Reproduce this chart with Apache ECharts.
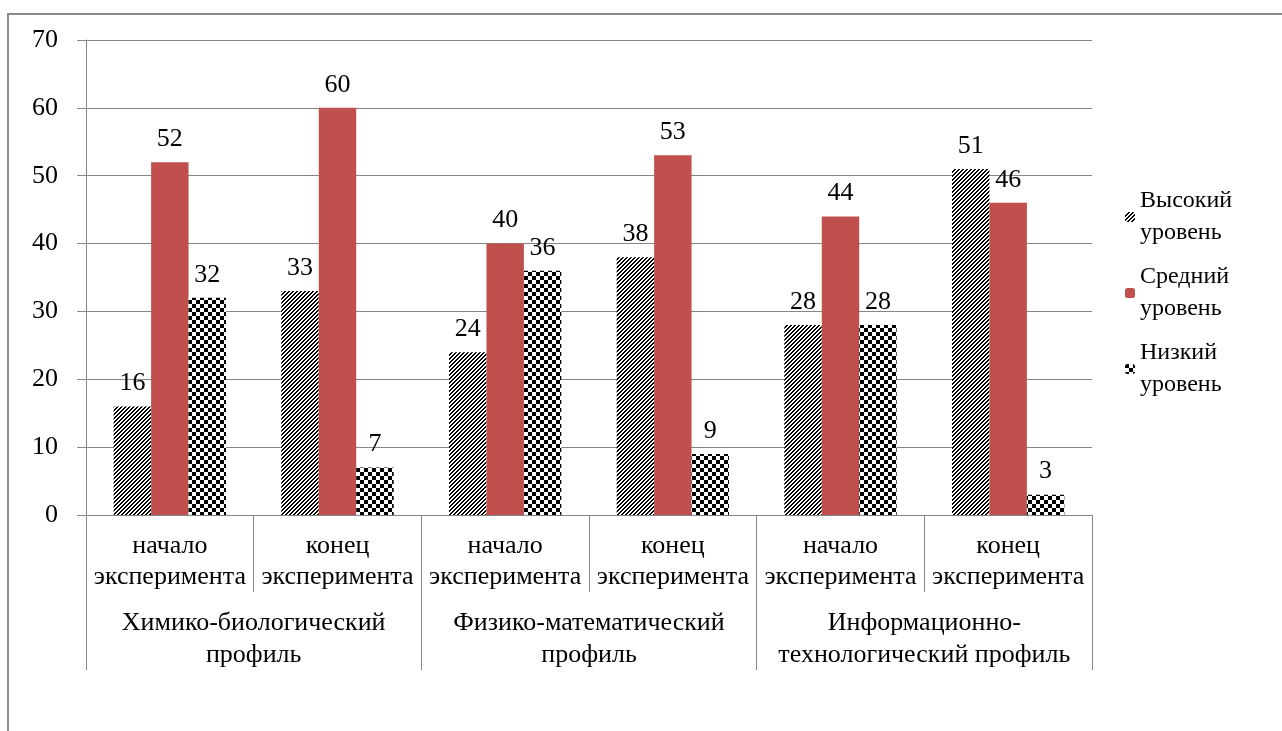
<!DOCTYPE html>
<html>
<head>
<meta charset="utf-8">
<script src="https://cdn.jsdelivr.net/npm/echarts@6/dist/echarts.min.js"></script>
<style>
  html, body { margin: 0; padding: 0; background: #fff; overflow: hidden; }
  #chart { width: 1282px; height: 731px; position: absolute; left: 0; top: 0; }
  #frame { position: absolute; left: 7px; top: 13px; width: 1400px; height: 900px; border: 2px solid #8c8c8c; pointer-events: none; }
</style>
</head>
<body>
<div id="chart"></div>
<div id="frame"></div>
<script>
// данные
const stages = ["начало\nэксперимента", "конец\nэксперимента", "начало\nэксперимента", "конец\nэксперимента", "начало\nэксперимента", "конец\nэксперимента"];
const profiles = ["Химико-биологический\nпрофиль", "Физико-математический\nпрофиль", "Информационно-\nтехнологический профиль"];
const seriesNames = ["Высокий уровень", "Средний уровень", "Низкий уровень"];
const high = [16, 33, 24, 38, 28, 51];
const middle = [52, 60, 40, 53, 44, 46];
const low = [32, 7, 36, 9, 28, 3];

const FONT = "serif";
const GRAY = "#868686";

// штриховка
function hatchPattern() {
  const c = document.createElement("canvas");
  c.width = 4; c.height = 4;
  const ctx = c.getContext("2d");
  ctx.fillStyle = "#fff";
  ctx.fillRect(0, 0, 4, 4);
  ctx.fillStyle = "#000";
  for (let x = 0; x < 4; x++) {
    ctx.fillRect(x, 3 - x, 1, 1);
    ctx.fillRect(x, (4 - x) % 4, 1, 1);
  }
  return c;
}

// шахматка
function checkerPattern() {
  const c = document.createElement("canvas");
  c.width = 8; c.height = 8;
  const ctx = c.getContext("2d");
  ctx.fillStyle = "#fff";
  ctx.fillRect(0, 0, 8, 8);
  ctx.fillStyle = "#000";
  ctx.fillRect(0, 0, 4, 4);
  ctx.fillRect(4, 4, 4, 4);
  return c;
}

const colors = [
  { image: hatchPattern(), repeat: "repeat" },
  "#C0504D",
  { image: checkerPattern(), repeat: "repeat" },
];

function makeSeries(name, data, color) {
  return {
    name: name,
    type: "bar",
    data: data,
    barGap: "0%",
    barCategoryGap: "33%",
    itemStyle: { color: color },
    label: {
      show: true,
      position: "top",
      distance: 10,
      color: "#000",
      fontFamily: FONT,
      fontSize: 26,
    },
  };
}

const chart = echarts.init(document.getElementById("chart"));

const option = {
  animation: false,
  grid: { left: 86, right: 190, top: 40, bottom: 216 },
  legend: {
    orient: "vertical",
    left: 1120,
    top: 180,
    itemWidth: 10,
    itemHeight: 10,
    itemGap: 12,
    data: seriesNames,
    formatter: function (n) { return n.replace(" ", "\n"); },
    textStyle: { fontFamily: FONT, fontSize: 24, color: "#000", lineHeight: 32 },
  },
  xAxis: [
    {
      type: "category",
      data: stages,
      position: "bottom",
      axisLine: { show: true, lineStyle: { color: GRAY, width: 1 } },
      axisTick: { show: true, length: 77, lineStyle: { color: GRAY } },
      axisLabel: { interval: 0, margin: 16, color: "#000", fontFamily: FONT, fontSize: 26, lineHeight: 31 },
    },
    {
      type: "category",
      data: profiles,
      position: "bottom",
      offset: 0,
      axisLine: { show: true, lineStyle: { color: GRAY, width: 1 } },
      axisTick: { show: true, length: 155, lineStyle: { color: GRAY } },
      axisLabel: { interval: 0, margin: 92, color: "#000", fontFamily: FONT, fontSize: 26, lineHeight: 32 },
    },
  ],
  yAxis: {
    type: "value",
    min: 0,
    max: 70,
    interval: 10,
    axisLine: { show: true, lineStyle: { color: GRAY } },
    axisTick: { show: true, length: 9, lineStyle: { color: GRAY } },
    splitLine: { show: true, lineStyle: { color: GRAY, width: 1 } },
    axisLabel: { margin: 28, color: "#000", fontFamily: FONT, fontSize: 26 },
  },
  series: [
    makeSeries(seriesNames[0], high, colors[0]),
    makeSeries(seriesNames[1], middle, colors[1]),
    makeSeries(seriesNames[2], low, colors[2]),
  ],
};

chart.setOption(option);
</script>
</body>
</html>
